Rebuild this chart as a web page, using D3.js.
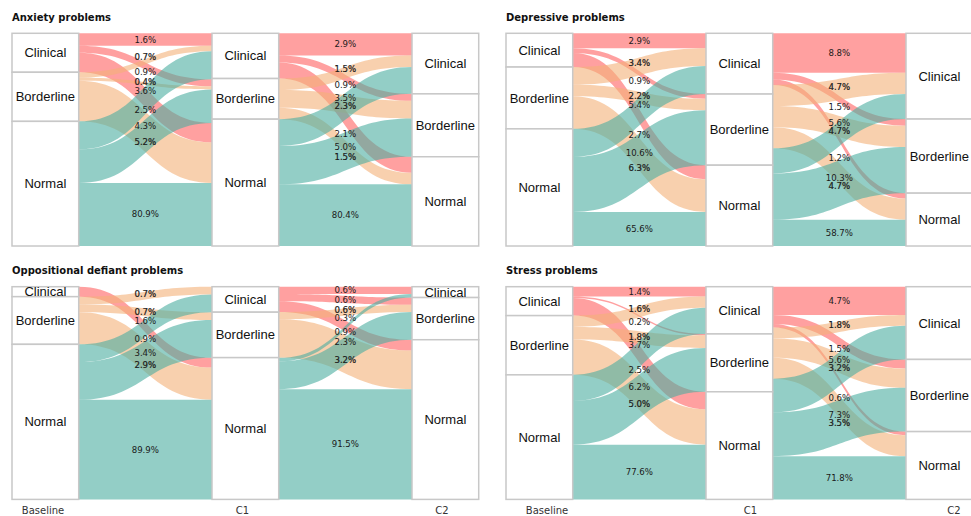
<!DOCTYPE html>
<html lang="en">
<head>
<meta charset="UTF-8">
<title>Alluvial plots of problem categories</title>
<script src="https://d3js.org/d3.v7.min.js"></script>
<style>
  body { margin: 0; background: #fff; }
  .title { font-family: "DejaVu Sans", sans-serif; font-weight: bold; font-size: 10px; fill: #111; }
  .cat { font-family: "Liberation Sans", Arial, sans-serif; font-size: 13px; fill: #111; }
  .pct { font-family: "DejaVu Sans", sans-serif; font-size: 8.6px; fill: #1a1a1a; }
  .pct.strong { stroke: #1a1a1a; stroke-width: 0.22px; }
  .wave { font-family: "DejaVu Sans", sans-serif; font-size: 10px; fill: #333; }
</style>
</head>
<body>
<div id="chart"></div>
<script>
// Data
const panelTitles = ["Anxiety problems", "Depressive problems", "Oppositional defiant problems", "Stress problems"];
const categories = ["Clinical", "Borderline", "Normal"];
const waves = ["Baseline", "C1", "C2"];

// % of children moving between categories, row = from, column = to
const anxietyBaseC1 = [[1.6, 0.9, 2.5], [0.7, 0.4, 5.2], [3.6, 4.3, 80.9]];
const anxietyC1C2 = [[2.9, 0.9, 2.1], [1.5, 2.3, 1.5], [3.5, 5.0, 80.4]];
const depressiveBaseC1 = [[2.9, 0.9, 2.7], [3.4, 2.2, 6.3], [5.4, 10.6, 65.6]];
const depressiveC1C2 = [[8.8, 1.5, 1.2], [4.7, 4.7, 4.7], [5.6, 10.3, 58.7]];
const oppositionalBaseC1 = [[0, 0, 0.9], [0.7, 0.7, 2.9], [1.6, 3.4, 89.9]];
const oppositionalC1C2 = [[0.6, 0.6, 0.9], [0, 0.6, 3.2], [0.3, 2.3, 91.5]];
const stressBaseC1 = [[1.4, 0.2, 2.5], [1.6, 1.8, 5.0], [3.7, 6.2, 77.6]];
const stressC1C2 = [[4.7, 1.5, 0.6], [1.8, 3.2, 3.5], [5.6, 7.3, 71.8]];

const transitions = [
    [anxietyBaseC1, anxietyC1C2],
    [depressiveBaseC1, depressiveC1C2],
    [oppositionalBaseC1, oppositionalC1C2],
    [stressBaseC1, stressC1C2]
];
// which transition gives the C1 boxes
const midBoxesFrom = [1, 0, 0, 0];

// Layout
const width = 971, height = 516;
const panelPos = [{x: 12, y: 33.3}, {x: 506, y: 33.3}, {x: 12, y: 286.7}, {x: 506, y: 286.7}];
const plotH = 212.7, boxW = 66.7, pitch = 200;
const normalShrink = 0.1;     // Normal -> Normal flow drawn at a tenth
const labelPos = 0.67;        // label sits 2/3 of the way from source to target
const minSep = 8.5;
const color = d3.scaleOrdinal().domain(categories).range(["#ff6161", "#f3b178", "#4bada0"]);
const fmt = d3.format(".1f");

const svg = d3.select("#chart")
    .append("svg")
    .attr("width", width)
    .attr("height", height);

const ribbon = (x0, x1, s0, s1, t0, t1) => {
    const xm = (x0 + x1) / 2;
    return `M${x0},${s0}C${xm},${s0} ${xm},${t0} ${x1},${t0}L${x1},${t1}C${xm},${t1} ${xm},${s1} ${x0},${s1}Z`;
};

panelTitles.forEach((title, p) => {
    const pos = panelPos[p];
    const g = svg.append("g");
    const colX = d3.scaleLinear().domain([0, 2]).range([pos.x, pos.x + 2 * pitch]);

    g.append("text")
        .attr("class", "title")
        .attr("x", pos.x)
        .attr("y", pos.y - 12.8)
        .text(title);

    // stack each transition on its own
    const layouts = transitions[p].map(m => {
        const w = m.map((row, a) => row.map((v, b) => (a === 2 && b === 2) ? v * normalShrink : v));
        const total = d3.sum(w.flat());
        const y = d3.scaleLinear().domain([0, total]).range([pos.y, pos.y + plotH]);
        const rowTot = w.map(r => d3.sum(r));
        const colTot = [0, 1, 2].map(b => d3.sum(w, r => r[b]));
        const rowStart = d3.cumsum([0, ...rowTot]);
        const colStart = d3.cumsum([0, ...colTot]);
        const inOff = Array.from(colStart.slice(0, 3));
        const flows = [];
        for (let a = 0; a < 3; a++) {
            let outOff = rowStart[a];
            for (let b = 0; b < 3; b++) {
                const v = w[a][b];
                if (m[a][b] > 0) {
                    flows.push({a, b, pct: m[a][b], s0: outOff, s1: outOff + v, t0: inOff[b], t1: inOff[b] + v});
                }
                outOff += v;
                inOff[b] += v;
            }
        }
        return {y, rowTot, colTot, flows};
    });

    // ribbons
    layouts.forEach((L, gi) => {
        const x0 = colX(gi) + boxW, x1 = colX(gi + 1);
        g.append("g").selectAll("path")
            .data(L.flows)
            .join("path")
            .attr("d", d => ribbon(x0, x1, L.y(d.s0), L.y(d.s1), L.y(d.t0), L.y(d.t1)))
            .attr("fill", d => color(categories[d.a]))
            .attr("fill-opacity", 0.6);
    });

    // boxes
    const columns = [
        {tot: layouts[0].rowTot, y: layouts[0].y},
        midBoxesFrom[p] === 0 ? {tot: layouts[0].colTot, y: layouts[0].y} : {tot: layouts[1].rowTot, y: layouts[1].y},
        {tot: layouts[1].colTot, y: layouts[1].y}
    ];
    columns.forEach((c, j) => {
        const starts = d3.cumsum([0, ...c.tot]);
        const nodes = categories.map((name, k) => ({name, y0: c.y(starts[k]), y1: c.y(starts[k + 1])}));
        const ng = g.append("g");
        ng.selectAll("rect")
            .data(nodes)
            .join("rect")
            .attr("x", colX(j))
            .attr("y", d => d.y0)
            .attr("width", boxW)
            .attr("height", d => d.y1 - d.y0)
            .attr("fill", "white")
            .attr("stroke", "#c8c8c8")
            .attr("stroke-width", 1.5);
        ng.selectAll("text")
            .data(nodes)
            .join("text")
            .attr("class", "cat")
            .attr("x", colX(j) + boxW / 2)
            .attr("y", d => (d.y0 + d.y1) / 2)
            .attr("dy", "0.35em")
            .attr("text-anchor", "middle")
            .text(d => d.name);
    });

    // percentage labels
    layouts.forEach((L, gi) => {
        const xc = (colX(gi) + boxW + colX(gi + 1)) / 2;
        const labels = L.flows.map(d => {
            const sm = (d.s0 + d.s1) / 2, tm = (d.t0 + d.t1) / 2;
            return {...d, ly: L.y(sm + labelPos * (tm - sm))};
        }).sort((u, v) => u.ly - v.ly);
        for (let it = 0; it < 60; it++) {
            for (let k = 0; k < labels.length - 1; k++) {
                const gap = labels[k + 1].ly - labels[k].ly;
                if (gap < minSep) {
                    const s = (minSep - gap) / 2;
                    labels[k].ly -= s;
                    labels[k + 1].ly += s;
                }
            }
        }
        g.append("g").selectAll("text")
            .data(labels)
            .join("text")
            .attr("class", d => d.a === 1 ? "pct strong" : "pct")
            .attr("x", xc)
            .attr("y", d => d.ly)
            .attr("dy", "0.35em")
            .attr("text-anchor", "middle")
            .text(d => `${fmt(d.pct)}%`);
    });

    // wave names under the bottom row
    if (p >= 2) {
        const right = p === 3;
        const waveX = d3.scalePoint()
            .domain(waves)
            .range(right ? [pos.x + 41, pos.x + 448] : [pos.x + 31, pos.x + 430]);
        g.append("g").selectAll("text")
            .data(waves)
            .join("text")
            .attr("class", "wave")
            .attr("x", d => waveX(d))
            .attr("y", 514)
            .attr("text-anchor", "middle")
            .text(d => d);
    }
});
</script>
</body>
</html>
